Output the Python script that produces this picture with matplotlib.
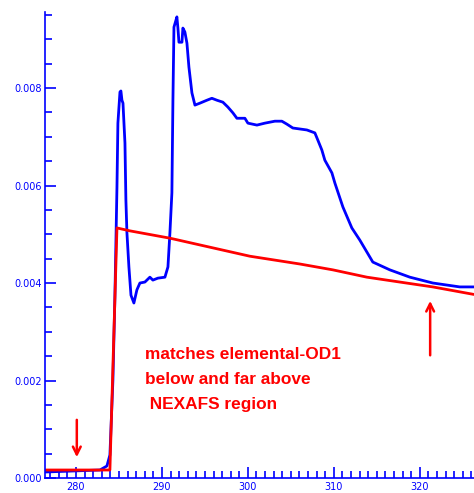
import matplotlib
matplotlib.use("Agg")
import matplotlib.pyplot as plt
from matplotlib.ticker import MultipleLocator, FormatStrFormatter

# blue: measured OD spectrum
blue_e = [276.40, 282.79, 283.60, 283.95, 284.30, 284.53, 284.77, 284.88, 285.12, 285.23,
          285.35, 285.47, 285.70, 285.81, 285.93, 286.16, 286.40, 286.74, 287.09, 287.44,
          288.02, 288.60, 288.95, 289.53, 290.35, 290.70, 290.93, 291.16, 291.28, 291.40,
          291.63, 291.74, 291.86, 291.98, 292.33, 292.44, 292.67, 292.91, 293.14, 293.49,
          293.84, 294.42, 295.23, 295.81, 296.40, 297.09, 297.67, 298.26, 298.72, 299.65,
          300.00, 301.05, 301.98, 303.14, 303.95, 304.53, 305.23, 306.05, 306.86, 307.79,
          308.14, 308.60, 308.95, 309.77, 310.12, 311.05, 312.09, 313.02, 314.53, 316.51,
          318.84, 321.51, 324.65, 326.28]
blue_od = [0.000123, 0.000164, 0.000246, 0.000472, 0.00201, 0.00371, 0.00597, 0.00728, 0.00792, 0.00794,
           0.00775, 0.00769, 0.00687, 0.00570, 0.00503, 0.00433, 0.00375, 0.00359, 0.00386, 0.00400,
           0.00402, 0.00412, 0.00406, 0.00410, 0.00412, 0.00433, 0.00503, 0.00585, 0.00775, 0.00925,
           0.00939, 0.00946, 0.00923, 0.00894, 0.00894, 0.00923, 0.00915, 0.00892, 0.00843, 0.00790,
           0.00765, 0.00769, 0.00775, 0.00779, 0.00775, 0.00771, 0.00761, 0.00749, 0.00738, 0.00738,
           0.00728, 0.00724, 0.00728, 0.00732, 0.00732, 0.00726, 0.00718, 0.00716, 0.00714, 0.00708,
           0.00693, 0.00673, 0.00652, 0.00626, 0.00605, 0.00556, 0.00513, 0.00488, 0.00443, 0.00427,
           0.00412, 0.00400, 0.00392, 0.00392]

# red: elemental OD1
red_e = [276.40, 283.95, 284.77, 286.28, 290.93, 300.23, 306.05, 309.88, 313.84, 317.67, 321.51, 326.16]
red_od = [0.000164, 0.000164, 0.00513, 0.00507, 0.00492, 0.00455, 0.00439, 0.00427, 0.00412, 0.00402,
          0.00392, 0.00377]

note = "matches elemental-OD1\nbelow and far above\n NEXAFS region"

blue = "#0000ff"
red = "#ff0000"

fig = plt.figure(figsize=(4.74, 4.93), dpi=100)
ax = fig.add_axes([45 / 474, 15 / 493, 429 / 474, 466 / 493])

ax.plot(blue_e, blue_od, color=blue, lw=2)
ax.plot(red_e, red_od, color=red, lw=2)

ax.set_xlim(276.4, 326.3)
ax.set_ylim(0, 0.00956)

for s in ["top", "right"]:
    ax.spines[s].set_visible(False)
for s in ["left", "bottom"]:
    ax.spines[s].set_color(blue)
    ax.spines[s].set_linewidth(1.2)

ax.xaxis.set_major_locator(MultipleLocator(10))
ax.xaxis.set_minor_locator(MultipleLocator(1))
ax.yaxis.set_major_locator(MultipleLocator(0.002))
ax.yaxis.set_minor_locator(MultipleLocator(0.0005))
ax.yaxis.set_major_formatter(FormatStrFormatter("%.3f"))
ax.tick_params(which="both", direction="in", colors=blue, labelsize=7, width=1.2)
ax.tick_params(which="major", length=8, pad=2)
ax.tick_params(axis="x", which="major", pad=3)
ax.tick_params(which="minor", length=5)

# annotation arrows
ax.annotate("", xy=(280.1, 0.00037), xytext=(280.1, 0.00125),
            arrowprops=dict(arrowstyle="->", color=red, lw=1.8, mutation_scale=14))
ax.annotate("", xy=(321.2, 0.00369), xytext=(321.2, 0.00246),
            arrowprops=dict(arrowstyle="->", color=red, lw=1.8, mutation_scale=14))

ax.text(288.0, 0.00268, note, color=red, fontsize=12.4, fontweight="bold",
        family="Liberation Sans", va="top", ha="left", linespacing=1.8)

fig.savefig("out.png", dpi=100)
